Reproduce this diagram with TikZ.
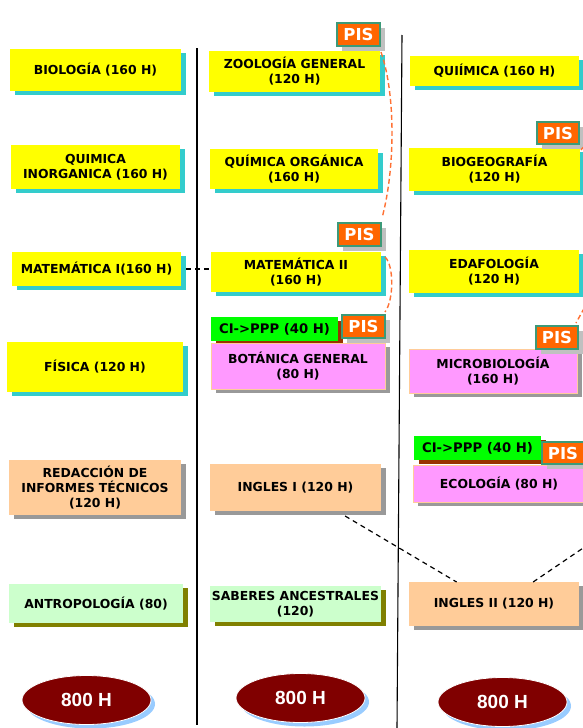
\documentclass[tikz,border=0pt]{standalone}
\usepackage{fontspec}
\setmainfont{DejaVu Sans}
\newfontfamily\arialfont{Liberation Sans}
\usetikzlibrary{shapes.geometric,shadows,calc}
\definecolor{yel}{HTML}{FFFF00}
\definecolor{cyanS}{HTML}{33CCCC}
\definecolor{pinkB}{HTML}{FF99FF}
\definecolor{peach}{HTML}{FFCC99}
\definecolor{lgreen}{HTML}{CCFFCC}
\definecolor{oliveS}{HTML}{808000}
\definecolor{grayS}{HTML}{999999}
\definecolor{greenB}{HTML}{00FF00}
\definecolor{brownS}{HTML}{993300}
\definecolor{pisO}{HTML}{FF6600}
\definecolor{pisB}{HTML}{3C9A78}
\definecolor{pisS}{HTML}{C0C0C0}
\definecolor{maroonE}{HTML}{800000}
\definecolor{lblue}{HTML}{99CCFF}
\definecolor{dashO}{HTML}{FF7033}
\newcommand\boxfont{\fontsize{12.4}{15}\selectfont\bfseries}
\newcommand\bx[7]{\node[#2, minimum width=#5pt, minimum height=#6pt] (#1) at (#3,#4) {#7};}
\tikzset{
  basebox/.style={inner sep=0pt, outer sep=0pt, align=center, font=\boxfont, anchor=north west},
  ybox/.style={basebox, fill=yel, drop shadow={shadow xshift=5pt, shadow yshift=-4pt, fill=cyanS, opacity=1}},
  pbox/.style={basebox, fill=pinkB, draw=peach, line width=0.8pt, drop shadow={shadow xshift=5pt, shadow yshift=-4pt, fill=grayS, opacity=1}},
  obox/.style={basebox, fill=peach, drop shadow={shadow xshift=5pt, shadow yshift=-4pt, fill=grayS, opacity=1}},
  gbox/.style={basebox, fill=lgreen, drop shadow={shadow xshift=5pt, shadow yshift=-4pt, fill=oliveS, opacity=1}},
  cibox/.style={basebox, fill=greenB, font=\fontsize{13.2}{15}\selectfont\bfseries, drop shadow={shadow xshift=5pt, shadow yshift=-4pt, fill=brownS, opacity=1}},
  pisbox/.style={basebox, fill=pisO, draw=pisB, line width=1.3pt, text=white, font=\fontsize{16.5}{17}\selectfont\bfseries, drop shadow={shadow xshift=5pt, shadow yshift=-5pt, fill=pisS, opacity=1}},
  hours/.style={ellipse, fill=maroonE, draw=white, line width=0.8pt, inner sep=0pt, minimum width=129pt, minimum height=49pt, text=white, font=\arialfont\fontsize{19}{19}\selectfont\bfseries, drop shadow={shadow xshift=4pt, shadow yshift=-4pt, fill=lblue, opacity=1}},
  vline/.style={line width=1.1pt, black},
  bdash/.style={black, line width=1.2pt, dash pattern=on 5pt off 4pt},
  odash/.style={dashO, line width=1.4pt, dash pattern=on 5pt off 3pt}
}
\begin{document}
\begin{tikzpicture}[x=1pt,y=-1pt]
\useasboundingbox (0,0) rectangle (583,728);
% column separators
\coordinate (l1t) at (197,48); \coordinate (l1b) at (197,725);
\coordinate (l2t) at (402,35); \coordinate (l2b) at (397,728);
\draw[vline] (l1t) -- (l1b);
\draw[vline] (l2t) -- (l2b);
% column 1
\bx{bio}{ybox}{10}{49}{171}{42}{BIOLOGÍA (160 H)}
\bx{qinorg}{ybox}{11}{145}{169}{44}{QUIMICA\\INORGANICA (160 H)}
\bx{mat1}{ybox}{12}{252}{169}{34}{MATEMÁTICA I(160 H)}
\bx{fis}{ybox}{7}{342}{176}{50}{FÍSICA (120 H)}
\bx{redac}{obox}{9}{460}{172}{55}{REDACCIÓN DE\\INFORMES TÉCNICOS\\(120 H)}
\bx{antro}{gbox}{9}{584}{174}{39}{ANTROPOLOGÍA (80)}
% column 2
\bx{zoo}{ybox}{209}{51}{171}{41}{ZOOLOGÍA GENERAL\\(120 H)}
\bx{qorg}{ybox}{210}{149}{168}{40}{QUÍMICA ORGÁNICA\\(160 H)}
\bx{mat2}{ybox}{211}{252}{170}{40}{MATEMÁTICA II\\(160 H)}
\bx{ci1}{cibox}{211}{317}{127}{24}{CI->PPP (40 H)}
\bx{bot}{pbox}{211}{343}{174}{46}{BOTÁNICA GENERAL\\(80 H)}
\bx{ingI}{obox}{210}{464}{171}{47}{INGLES I (120 H)}
\bx{sab}{gbox}{210}{586}{171}{36}{SABERES ANCESTRALES\\(120)}
% column 3
\bx{quim}{ybox}{410}{56}{169}{30}{QUIÍMICA (160 H)}
\bx{biogeo}{ybox}{409}{148}{171}{43}{BIOGEOGRAFÍA\\(120 H)}
\bx{edaf}{ybox}{409}{250}{170}{43}{EDAFOLOGÍA\\(120 H)}
\bx{micro}{pbox}{409}{349}{168}{44}{MICROBIOLOGÍA\\(160 H)}
\bx{ci2}{cibox}{414}{436}{127}{24}{CI->PPP (40 H)}
\bx{eco}{pbox}{413}{465}{172}{37}{ECOLOGÍA (80 H)}
\bx{ingII}{obox}{409}{582}{170}{44}{INGLES II (120 H)}
% PIS tags
\bx{pis1}{pisbox}{337}{23}{43}{23}{PIS}
\bx{pis2}{pisbox}{338}{223}{43}{23}{PIS}
\bx{pis3}{pisbox}{342}{315}{43}{23}{PIS}
\bx{pis4}{pisbox}{537}{122}{42}{22}{PIS}
\bx{pis5}{pisbox}{536}{326}{42}{23}{PIS}
\bx{pis6}{pisbox}{542}{442}{42}{22}{PIS}
% hour totals
\node[hours] (h1) at (86.5,700) {800 H};
\node[hours] (h2) at (300.5,698) {800 H};
\node[hours] (h3) at (502.5,702) {800 H};
% black dashed links
\draw[bdash] ([xshift=5pt]mat1.east) -- (mat1.east -| mat2.west);
\draw[bdash] ([yshift=-5pt]$(ingI.south west)!0.79!(ingI.south east)$) -- ($(ingII.north west)!0.28!(ingII.north east)$);
\coordinate (offR1) at (620,523);
\draw[bdash] ($(ingII.north west)!0.73!(ingII.north east)$) -- (offR1);
% orange dashed links
\draw[odash] ([xshift=1pt,yshift=-1pt]zoo.north east) .. controls (396,95) and (395,170) .. ([xshift=1pt,yshift=5pt]pis2.north east);
\draw[odash] ([xshift=4pt,yshift=-5pt]mat2.north east) .. controls (394,265) and (394,300) .. ([yshift=3pt]pis3.north east);
\coordinate (offR2) at (592,294);
\draw[odash] (offR2) -- ([xshift=-2pt,yshift=3pt]pis5.north east);
\coordinate (offR3) at (588,141);
\draw[odash] (offR3) -- ([xshift=1pt,yshift=-2pt]biogeo.north east);
\end{tikzpicture}
\end{document}
